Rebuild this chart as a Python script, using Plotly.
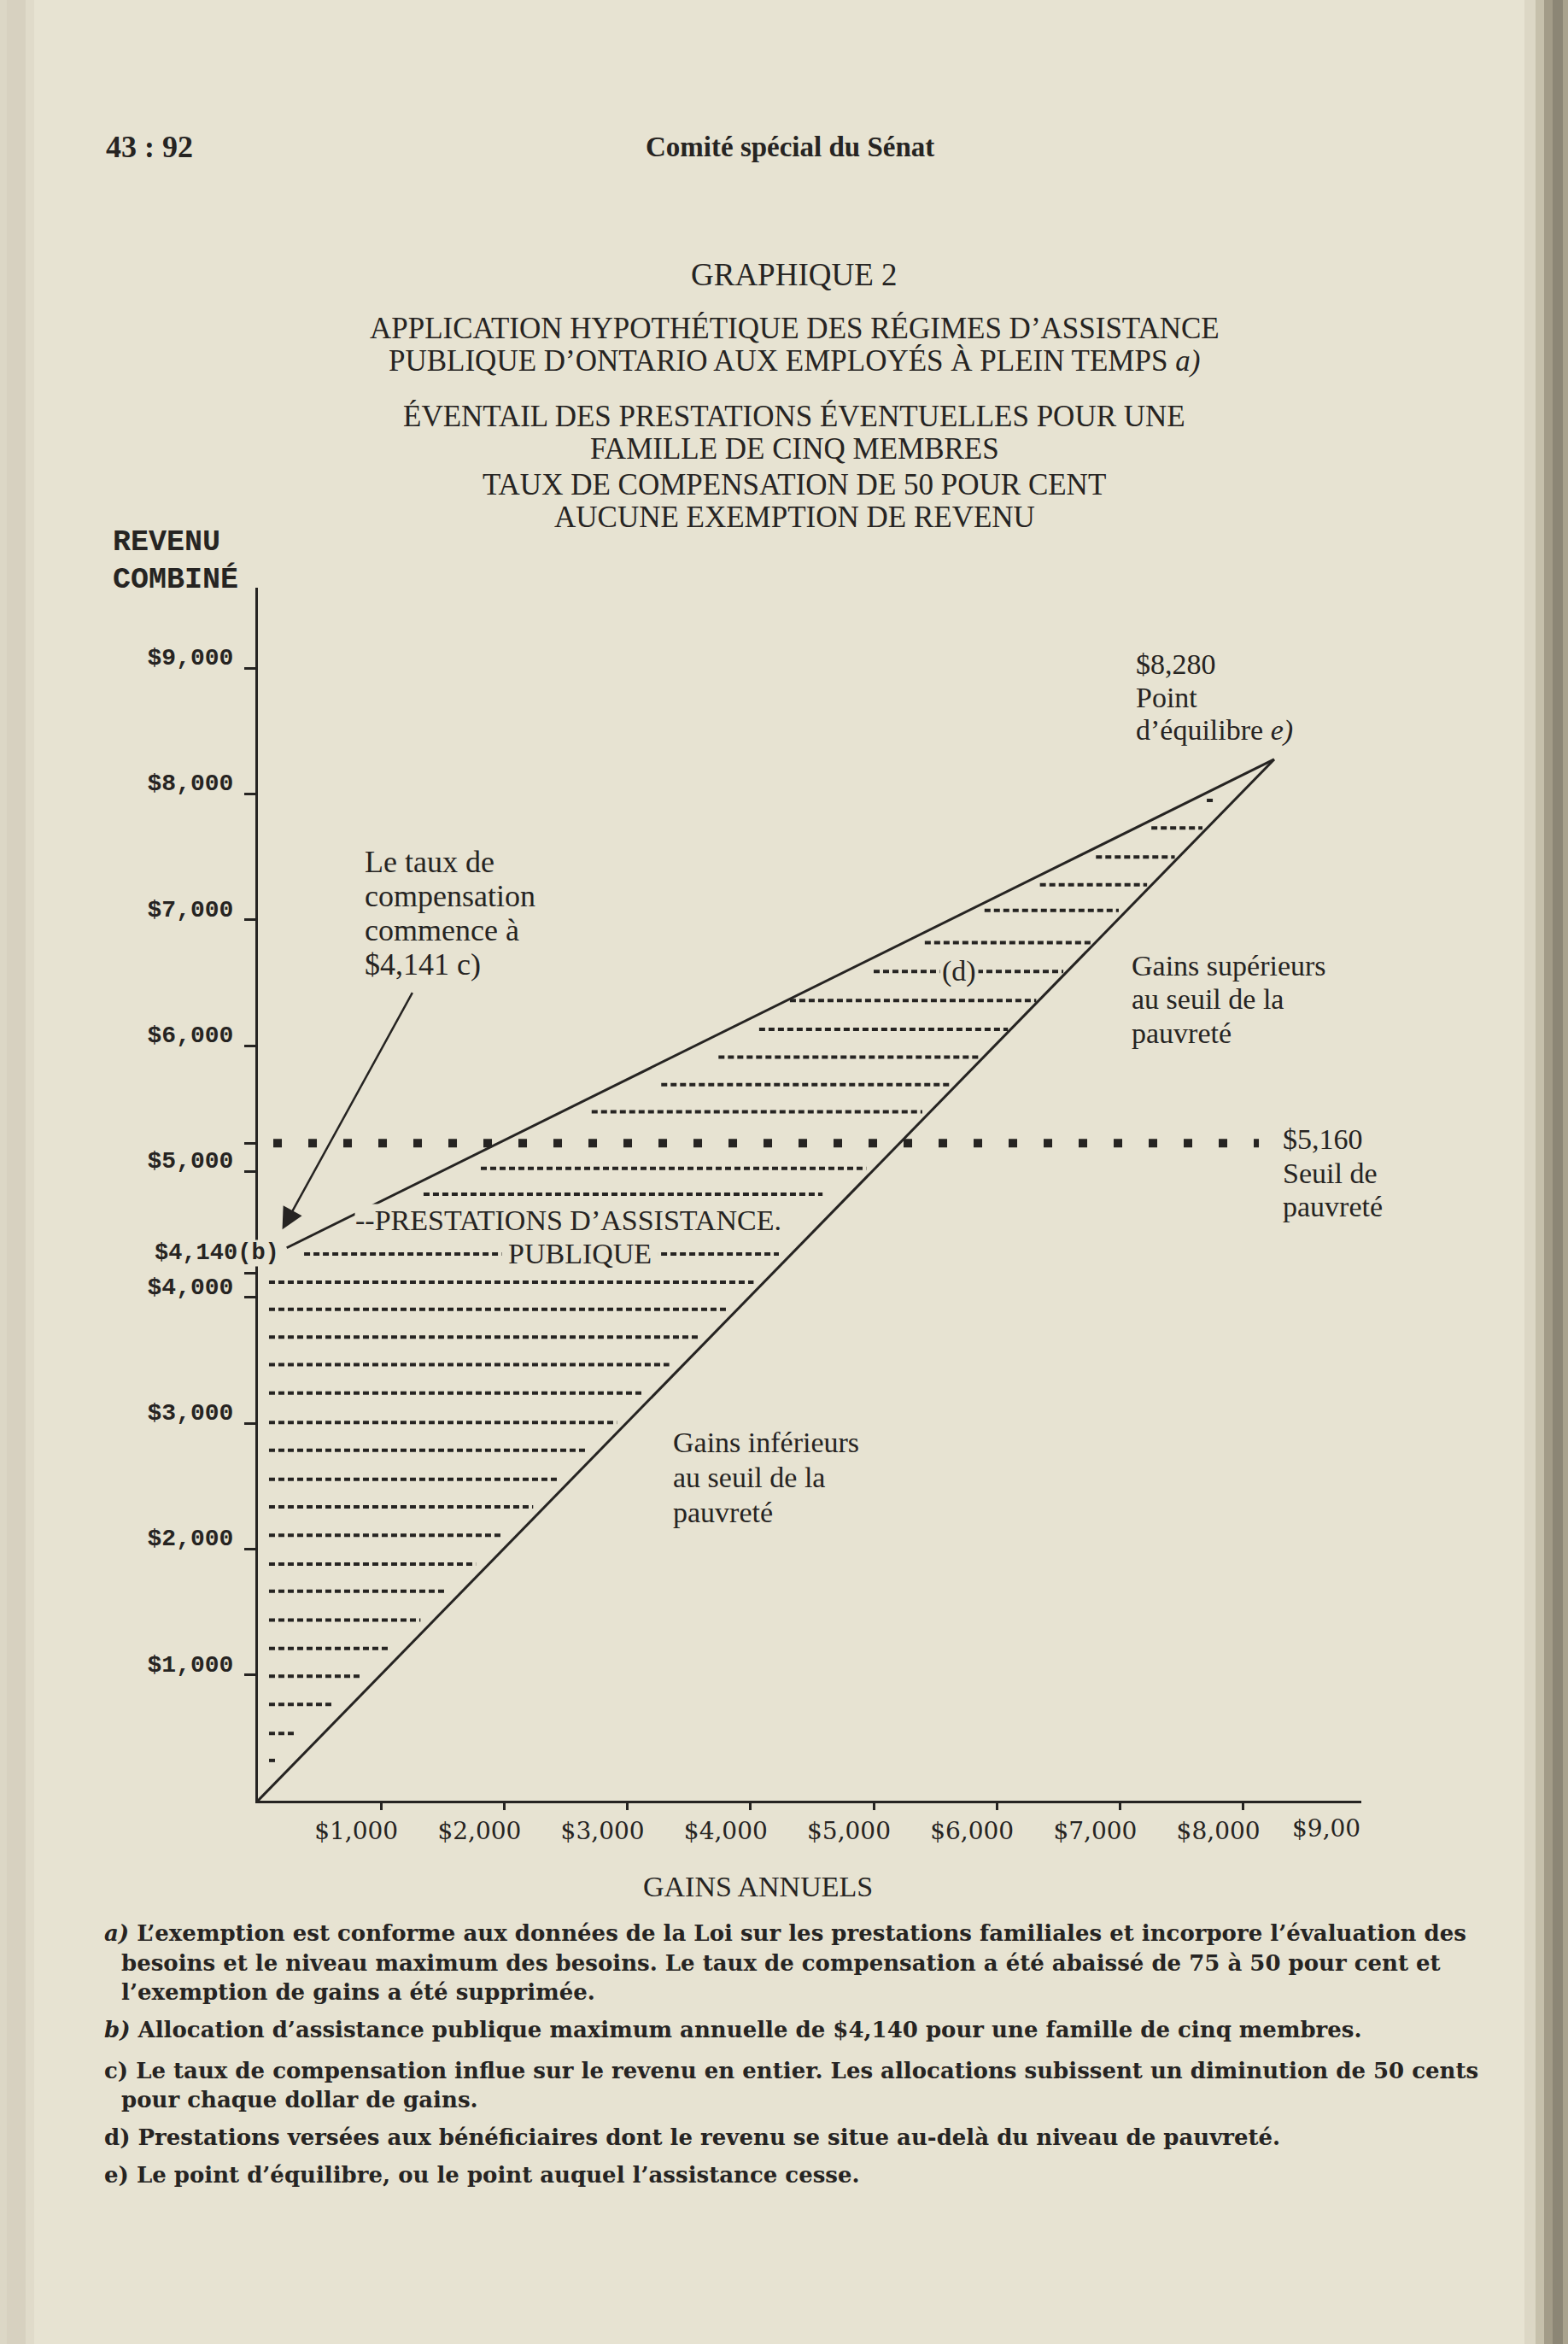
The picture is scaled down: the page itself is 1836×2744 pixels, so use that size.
import plotly.graph_objects as go

# ---------------- data ----------------
X_TICKS = [1000, 2000, 3000, 4000, 5000, 6000, 7000, 8000]
X_TICK_LABELS = ["$1,000", "$2,000", "$3,000", "$4,000", "$5,000", "$6,000", "$7,000", "$8,000"]
X_LAST_LABEL = "$9,00"
X_LAST_VALUE = 9000

Y_TICKS = [1000, 2000, 3000, 4000, 5000, 6000, 7000, 8000, 9000]
Y_TICK_LABELS = ["$1,000", "$2,000", "$3,000", "$4,000", "$5,000", "$6,000", "$7,000", "$8,000", "$9,000"]
Y_EXTRA_TICKS = [4195, 5225]

# earnings line (gains) and total income line (gains + assistance)
EARNINGS_X = [0, 8252]
EARNINGS_Y = [0, 8276]
INCOME_X = [234, 8252]
INCOME_Y = [4394, 8276]

# poverty threshold (dotted)
POVERTY_X = [125, 8128]
POVERTY_Y = [5225, 5225]

# dashed rows under the guarantee level (axis -> earnings line)
BELOW_ROW_Y = [4345, 4120, 3905, 3685, 3465, 3240, 3005, 2785, 2555, 2335,
               2110, 1880, 1665, 1435, 1210, 990, 765, 535, 320]
BELOW_ROW_X_START = [375, 90, 90, 90, 90, 90, 90, 90, 90, 90,
                     90, 90, 90, 90, 90, 90, 90, 90, 90]
BELOW_ROW_X_END = [4230, 4025, 3800, 3580, 3340, 3115, 2915, 2665, 2450, 2235,
                   1970, 1770, 1535, 1320, 1080, 840, 620, 310, 140]

# dashed rows above the guarantee level (income line -> earnings line)
ABOVE_ROW_Y = [4820, 5025, 5475, 5690, 5910, 6130, 6360, 6590, 6820, 7075, 7280, 7500, 7730, 7950]
ABOVE_ROW_X_START = [1345, 1810, 2710, 3275, 3740, 4070, 4320, 5000, 5415, 5900, 6350, 6805, 7255, 7705]
ABOVE_ROW_X_END = [4585, 4940, 5395, 5620, 5865, 6090, 6320, 6540, 6770, 6990, 7220, 7445, 7670, 7780]

ARROW_TIP = (198, 4540)
ARROW_TAIL = (1260, 6431)

# ---------------- styles / layout ----------------
PAPER = "#e7e3d2"
INK = "#262422"
SERIF = "Liberation Serif"
MONO = "Liberation Mono"
NOTE_FONT = "DejaVu Serif"

FIG_W, FIG_H = 1836, 2744
PL, PR, PT, PB = 302, 1594, 688, 2108
PW, PH = PR - PL, PB - PT
X_MAX = PW / 0.1442
Y_MAX = PH / 0.1473

fig = go.Figure()

# dashed rows
rx, ry = [], []
for y, s, e in zip(BELOW_ROW_Y, BELOW_ROW_X_START, BELOW_ROW_X_END):
    rx += [s, e, None]
    ry += [y, y, None]
for y, s, e in zip(ABOVE_ROW_Y, ABOVE_ROW_X_START, ABOVE_ROW_X_END):
    rx += [s, e, None]
    ry += [y, y, None]
fig.add_trace(go.Scatter(x=rx, y=ry, mode="lines", connectgaps=False,
                         line=dict(color=INK, width=4, dash="7px,4px"),
                         hoverinfo="skip", showlegend=False, cliponaxis=False))

# poverty dotted line
fig.add_trace(go.Scatter(x=POVERTY_X, y=POVERTY_Y, mode="lines",
                         line=dict(color=INK, width=10, dash="10px,31px"),
                         hoverinfo="skip", showlegend=False, cliponaxis=False))

# solid lines
fig.add_trace(go.Scatter(x=EARNINGS_X, y=EARNINGS_Y, mode="lines",
                         line=dict(color=INK, width=3), hoverinfo="skip",
                         showlegend=False, cliponaxis=False))
fig.add_trace(go.Scatter(x=INCOME_X, y=INCOME_Y, mode="lines",
                         line=dict(color=INK, width=3), hoverinfo="skip",
                         showlegend=False, cliponaxis=False))


def txt(s, px, py, size=34, family=SERIF, xanchor="left", bg=None, pad=1):
    d = dict(text=s, x=(px - PL) / PW, y=(PB - py) / PH, xref="paper", yref="paper",
             xanchor=xanchor, yanchor="middle", showarrow=False, align="left",
             font=dict(family=family, size=size, color=INK), borderpad=pad)
    if bg:
        d["bgcolor"] = bg
    return d


anns = []
# header
anns.append(txt("<b>43 : 92</b>", 122, 172, size=36))
anns.append(txt("<b>Comité spécial du Sénat</b>", 925, 172, size=33, xanchor="center"))

# title
title_lines = [
    ("GRAPHIQUE 2", 322, 37),
    ("APPLICATION HYPOTHÉTIQUE DES RÉGIMES D’ASSISTANCE", 385, 35),
    ("PUBLIQUE D’ONTARIO AUX EMPLOYÉS À PLEIN TEMPS <i>a)</i>", 423, 35),
    ("ÉVENTAIL DES PRESTATIONS ÉVENTUELLES POUR UNE", 487, 35),
    ("FAMILLE DE CINQ MEMBRES", 525, 35),
    ("TAUX DE COMPENSATION DE 50 POUR CENT", 567, 35),
    ("AUCUNE EXEMPTION DE REVENU", 605, 35),
]
for s, y, sz in title_lines:
    anns.append(txt(s, 930, y, size=sz, xanchor="center"))

# y axis title
anns.append(txt("<b>REVENU</b>", 131, 635, size=35, family=MONO, pad=0))
anns.append(txt("<b>COMBINÉ</b>", 131, 679, size=35, family=MONO, pad=0))

# guarantee label
anns.append(txt("<b>$4,140(b)</b>", 180, 1467, size=27, family=MONO, bg=PAPER, pad=0))

# x last label and axis title
anns.append(txt(X_LAST_LABEL, PL + X_LAST_VALUE * 0.1442 - 47, 2140, size=28,
                family=NOTE_FONT, xanchor="center"))
anns.append(txt("GAINS ANNUELS", 887, 2208, size=34, xanchor="center"))

# chart notes
for s, y in [("Le taux de", 1009), ("compensation", 1049), ("commence à", 1089), ("$4,141 c)", 1129)]:
    anns.append(txt(s, 425, y, size=36))
for s, y in [("$8,280", 777), ("Point", 816), ("d’équilibre <i>e)</i>", 855)]:
    anns.append(txt(s, 1328, y))
for s, y in [("Gains supérieurs", 1130), ("au seuil de la", 1169), ("pauvreté", 1209)]:
    anns.append(txt(s, 1323, y))
for s, y in [("$5,160", 1333), ("Seuil de", 1373), ("pauvreté", 1412)]:
    anns.append(txt(s, 1500, y))
for s, y in [("Gains inférieurs", 1688), ("au seuil de la", 1729), ("pauvreté", 1770)]:
    anns.append(txt(s, 786, y))

anns.append(txt("--PRESTATIONS D’ASSISTANCE.", 415, 1428, bg=PAPER, pad=0))
anns.append(txt("PUBLIQUE", 679, 1467, xanchor="center", bg=PAPER, pad=7))
anns.append(txt("(d)", 1123, 1137, xanchor="center", bg=PAPER, pad=2))

# arrow
anns.append(dict(x=ARROW_TIP[0], y=ARROW_TIP[1], ax=ARROW_TAIL[0], ay=ARROW_TAIL[1],
                 xref="x", yref="y", axref="x", ayref="y", text="", showarrow=True,
                 arrowhead=2, arrowsize=2, arrowwidth=2.5, arrowcolor=INK))

# footnotes
notes = [
    ("<i>a)</i> L’exemption est conforme aux données de la Loi sur les prestations familiales et incorpore l’évaluation des", 120, 2263),
    ("besoins et le niveau maximum des besoins. Le taux de compensation a été abaissé de 75 à 50 pour cent et", 140, 2298),
    ("l’exemption de gains a été supprimée.", 140, 2332),
    ("<i>b)</i> Allocation d’assistance publique maximum annuelle de $4,140 pour une famille de cinq membres.", 120, 2376),
    ("c) Le taux de compensation influe sur le revenu en entier. Les allocations subissent un diminution de 50 cents", 120, 2424),
    ("pour chaque dollar de gains.", 140, 2458),
    ("d) Prestations versées aux bénéficiaires dont le revenu se situe au-delà du niveau de pauvreté.", 120, 2502),
    ("e) Le point d’équilibre, ou le point auquel l’assistance cesse.", 120, 2546),
]
for s, x, y in notes:
    anns.append(txt("<b>" + s + "</b>", x, y, size=26, family=NOTE_FONT))

# binding shadows at page edges
shapes = []
for x0, x1, c in [(0, 8, "#dcd7c6"), (8, 30, "#d7d1c0"), (30, 40, "#e0dbca"),
                  (1785, 1798, "#dcd7c5"), (1798, 1808, "#c6c0ab"), (1808, 1818, "#a39c88"),
                  (1818, 1830, "#8c8675"), (1830, 1836, "#a9a28d")]:
    shapes.append(dict(type="rect", xref="paper", yref="paper",
                       x0=(x0 - PL) / PW, x1=(x1 - PL) / PW,
                       y0=(PB - FIG_H) / PH, y1=PB / PH,
                       fillcolor=c, line=dict(width=0), layer="above"))

fig.update_layout(
    width=FIG_W, height=FIG_H,
    margin=dict(l=PL, r=FIG_W - PR, t=PT, b=FIG_H - PB, pad=0),
    paper_bgcolor=PAPER, plot_bgcolor=PAPER,
    showlegend=False,
    annotations=anns,
    shapes=shapes,
    xaxis=dict(range=[0, X_MAX], showgrid=False, zeroline=False, showline=True,
               linecolor=INK, linewidth=3, ticks="outside", ticklen=8, tickwidth=2.5,
               tickcolor=INK, tickvals=X_TICKS, ticktext=X_TICK_LABELS,
               tickfont=dict(family=NOTE_FONT, size=28, color=INK),
               ticklabelshift=-29, ticklabelstandoff=0, fixedrange=True),
    yaxis=dict(range=[0, Y_MAX], showgrid=False, zeroline=False, showline=True,
               linecolor=INK, linewidth=3, ticks="outside", ticklen=13, tickwidth=2.5,
               tickcolor=INK, tickvals=Y_TICKS + Y_EXTRA_TICKS,
               ticktext=["<b>" + t + "</b>" for t in Y_TICK_LABELS] + ["" for _ in Y_EXTRA_TICKS],
               tickfont=dict(family=MONO, size=28, color=INK),
               ticklabelshift=-14, ticklabelstandoff=7, fixedrange=True),
)

fig.write_html(
    "out.html",
    config={"displayModeBar": False},
    post_script=["document.documentElement.style.margin='0';document.body.style.margin='0';"
                 "document.body.style.overflow='hidden';"
                 "document.body.style.background='" + PAPER + "';"],
)
